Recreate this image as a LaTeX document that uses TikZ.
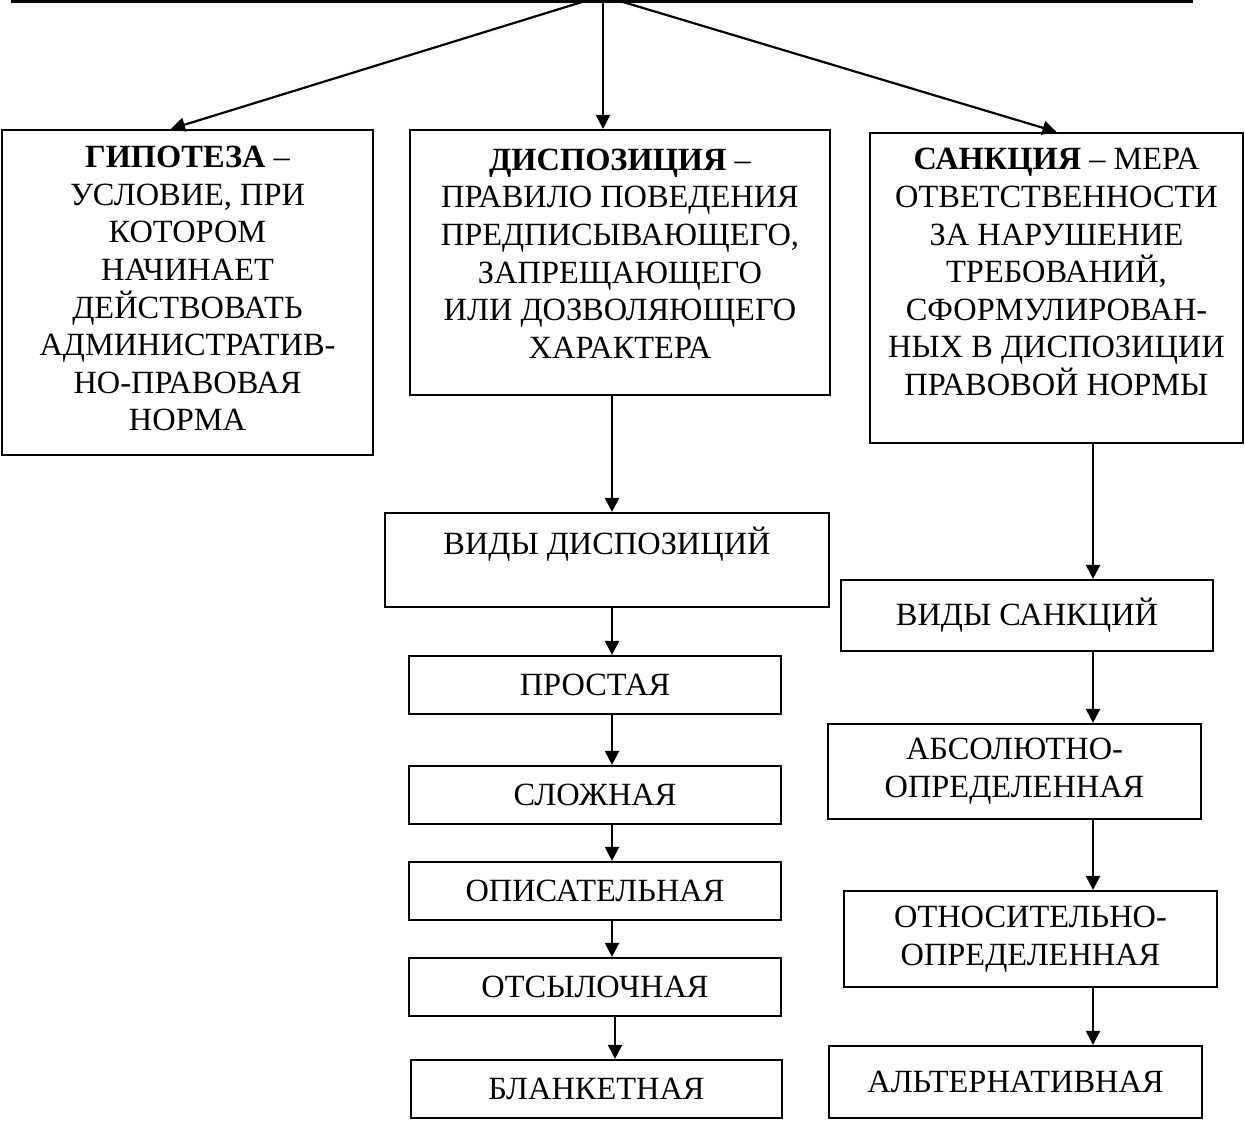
\documentclass[tikz,border=0pt]{standalone}
\usepackage{fontspec}
\setmainfont{Liberation Serif}
\usetikzlibrary{arrows.meta}
\begin{document}
\begin{tikzpicture}[x=0.5pt,y=-0.5pt,line join=miter,
	font=\fontsize{16.2}{18.8}\selectfont,
	>={Triangle[length=7pt,width=7pt]},
	box/.style={draw,line width=1.1pt,inner sep=0pt,align=center},
	arr/.style={->,line width=1.1pt}]
	\useasboundingbox (0,0) rectangle (1245,1122);
	% top bar
	\coordinate (barL) at (11,1.5);
	\coordinate (barR) at (1193,1.5);
	\draw[line width=2pt] (barL)--(barR);
	\coordinate (srcA) at (582,2);
	\coordinate (srcB) at (603,2);
	\coordinate (srcC) at (623,2);
	% main boxes
	\node[box,minimum width=185.5pt,minimum height=162.5pt] (hyp) at (187.5,292.5)
	{\textbf{ГИПОТЕЗА} –\\УСЛОВИЕ, ПРИ\\КОТОРОМ\\НАЧИНАЕТ\\ДЕЙСТВОВАТЬ\\АДМИНИСТРАТИВ-\\НО-ПРАВОВАЯ\\НОРМА\\[-14.8pt]\mbox{}};
	\node[box,minimum width=210pt,minimum height=132.5pt] (disp) at (620,262.5)
	{\textbf{ДИСПОЗИЦИЯ} –\\ПРАВИЛО ПОВЕДЕНИЯ\\ПРЕДПИСЫВАЮЩЕГО,\\ЗАПРЕЩАЮЩЕГО\\ИЛИ ДОЗВОЛЯЮЩЕГО\\ХАРАКТЕРА\\[-9.8pt]\mbox{}};
	\node[box,minimum width=186.5pt,minimum height=155pt] (sanc) at (1056.5,288)
	{\textbf{САНКЦИЯ} – МЕРА\\ОТВЕТСТВЕННОСТИ\\ЗА НАРУШЕНИЕ\\ТРЕБОВАНИЙ,\\СФОРМУЛИРОВАН-\\НЫХ В ДИСПОЗИЦИИ\\ПРАВОВОЙ НОРМЫ\\[-2.8pt]\mbox{}};
	\draw[arr] (srcA)--([xshift=-8.25pt]hyp.north);
	\draw[arr] (srcB)--(srcB |- disp.north);
	\draw[arr] (srcC)--(sanc.north);
	% kinds of dispositions
	\node[box,minimum width=222pt,minimum height=47pt] (vidd) at (607,560) {ВИДЫ ДИСПОЗИЦИЙ\\\mbox{}};
	\node[box,minimum width=186pt,minimum height=29pt] (prost) at (595,685) {ПРОСТАЯ};
	\node[box,minimum width=186pt,minimum height=29pt] (slozh) at (595,795) {СЛОЖНАЯ};
	\node[box,minimum width=186pt,minimum height=29pt] (opis) at (595,891) {ОПИСАТЕЛЬНАЯ};
	\node[box,minimum width=186pt,minimum height=29pt] (otsyl) at (595,987) {ОТСЫЛОЧНАЯ};
	\node[box,minimum width=185.5pt,minimum height=29pt] (blank) at (596.5,1089) {БЛАНКЕТНАЯ};
	\coordinate (colD) at (612,0);
	\draw[arr] (colD |- disp.south)--(colD |- vidd.north);
	\draw[arr] (colD |- vidd.south)--(colD |- prost.north);
	\draw[arr] (colD |- prost.south)--(colD |- slozh.north);
	\draw[arr] (colD |- slozh.south)--(colD |- opis.north);
	\draw[arr] (colD |- opis.south)--(colD |- otsyl.north);
	\draw[arr] ([xshift=1.5pt]colD |- otsyl.south)--([xshift=1.5pt]colD |- blank.north);
	% kinds of sanctions
	\node[box,minimum width=186pt,minimum height=35.5pt] (vids) at (1027,615.5) {ВИДЫ САНКЦИЙ};
	\node[box,minimum width=186.5pt,minimum height=47.5pt] (abs) at (1014.5,771.5) {АБСОЛЮТНО-\\ОПРЕДЕЛЕННАЯ};
	\node[box,minimum width=186.5pt,minimum height=48pt] (otn) at (1030.5,939) {ОТНОСИТЕЛЬНО-\\ОПРЕДЕЛЕННАЯ};
	\node[box,minimum width=186.5pt,minimum height=36pt] (alt) at (1015.5,1082) {АЛЬТЕРНАТИВНАЯ};
	\coordinate (colS) at (1093,0);
	\draw[arr] (colS |- sanc.south)--(colS |- vids.north);
	\draw[arr] (colS |- vids.south)--(colS |- abs.north);
	\draw[arr] (colS |- abs.south)--(colS |- otn.north);
	\draw[arr] (colS |- otn.south)--(colS |- alt.north);
\end{tikzpicture}
\end{document}
